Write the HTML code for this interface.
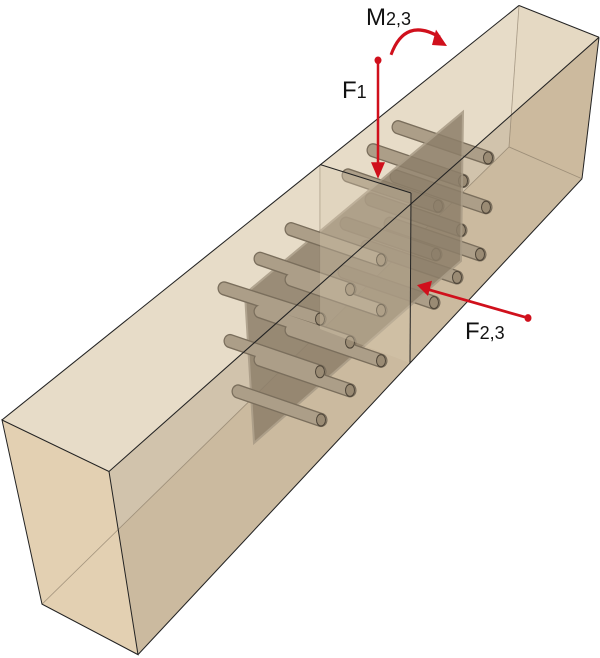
<!DOCTYPE html>
<html><head><meta charset="utf-8"><style>
html,body{margin:0;padding:0;background:#fff;width:600px;height:658px;overflow:hidden}
svg{display:block}
text{font-family:"Liberation Sans",sans-serif;fill:#111}
</style></head><body>
<svg width="600" height="658" viewBox="0 0 600 658">
<g transform="scale(1,1.0965)">
<polygon points="519,5 599,34 582,163 509,134" fill="#d9c3a0"/>
<polygon points="42,551 509,134 582,163 138,597" fill="#d8c4a6"/>
<polygon points="2,383 519,5 599,34 109,430" fill="#e6dac5" opacity="0.95"/>
<polygon points="109,430 599,34 582,163 138,597" fill="#c9b89d" opacity="0.85"/>
<polygon points="2,383 109,430 138,597 42,551" fill="#e3d0b2"/>
<g stroke="#8a7c68" stroke-width="0.8" fill="none" opacity="0.7">
<line x1="519" y1="5" x2="509" y2="134"/>
<line x1="509" y1="134" x2="582" y2="163"/>
<line x1="42" y1="551" x2="509" y2="134"/>
<line x1="320" y1="150" x2="320" y2="300"/>
</g>
<g fill="none" stroke-linecap="round">
<g stroke="#7a6e5c" stroke-width="13">
<path d="M398,116L488,144M373,137L463,165M396,161L486,189M348,160L438,188M371,182L461,210M390,204L480,232M346,204L436,232M367,225L457,253M344,248L434,276"/>
</g>
<g stroke="#ac9e88" stroke-width="10.5">
<path d="M398,116L488,144M373,137L463,165M396,161L486,189M348,160L438,188M371,182L461,210M390,204L480,232M346,204L436,232M367,225L457,253M344,248L434,276"/>
</g>
</g>
<g fill="#9a8b74" stroke="#4e4538" stroke-width="1">
<ellipse cx="488" cy="144" rx="4.5" ry="5.5"/><ellipse cx="463" cy="165" rx="4.5" ry="5.5"/><ellipse cx="486" cy="189" rx="4.5" ry="5.5"/><ellipse cx="438" cy="188" rx="4.5" ry="5.5"/><ellipse cx="461" cy="210" rx="4.5" ry="5.5"/><ellipse cx="480" cy="232" rx="4.5" ry="5.5"/><ellipse cx="436" cy="232" rx="4.5" ry="5.5"/><ellipse cx="457" cy="253" rx="4.5" ry="5.5"/><ellipse cx="434" cy="276" rx="4.5" ry="5.5"/>
</g>
<polygon points="245,268 463,102 461,238 254,404" fill="#8d7f6a" opacity="0.85" stroke="#a89b86" stroke-width="2"/>
<g fill="none" stroke-linecap="round">
<g stroke="#7a6e5c" stroke-width="13">
<path d="M291,209L381,237M260,236L350,264M291,255L381,283M224,263L320,291M260,284L350,312M291,301L381,329M230,311L320,339M260,328L350,356M238,357L321,383"/>
</g>
<g stroke="#ac9e88" stroke-width="10.5">
<path d="M291,209L381,237M260,236L350,264M291,255L381,283M224,263L320,291M260,284L350,312M291,301L381,329M230,311L320,339M260,328L350,356M238,357L321,383"/>
</g>
</g>
<g fill="#9a8b74" stroke="#4e4538" stroke-width="1">
<ellipse cx="381" cy="237" rx="4.5" ry="5.5"/><ellipse cx="350" cy="264" rx="4.5" ry="5.5"/><ellipse cx="381" cy="283" rx="4.5" ry="5.5"/><ellipse cx="320" cy="291" rx="4.5" ry="5.5"/><ellipse cx="350" cy="312" rx="4.5" ry="5.5"/><ellipse cx="381" cy="329" rx="4.5" ry="5.5"/><ellipse cx="320" cy="339" rx="4.5" ry="5.5"/><ellipse cx="350" cy="356" rx="4.5" ry="5.5"/><ellipse cx="321" cy="383" rx="4.5" ry="5.5"/>
</g>
<polygon points="320,150 411,176 410,331 320,300" fill="#d8c8ae" opacity="0.35"/>
<g stroke="#222" stroke-width="1" fill="none">
<polygon points="2,383 109,430 138,597 42,551"/>
<line x1="2" y1="383" x2="519" y2="5"/>
<line x1="519" y1="5" x2="599" y2="34"/>
<line x1="109" y1="430" x2="599" y2="34"/>
<line x1="599" y1="34" x2="582" y2="163"/>
<line x1="138" y1="597" x2="582" y2="163"/>
<line x1="320" y1="150" x2="411" y2="176"/>
<line x1="411" y1="176" x2="410" y2="331"/>
</g>
<g stroke="#d0101c" fill="#d0101c">
<line x1="378" y1="55" x2="378" y2="150" stroke-width="2.5"/>
<circle cx="378" cy="55" r="3.5" stroke="none"/>
<polygon points="371,148 385,148 378,163" stroke="none"/>
<line x1="528" y1="290" x2="428" y2="264" stroke-width="2.5"/>
<circle cx="528" cy="290" r="3.5" stroke="none"/>
<polygon points="417,260 432,256 428,270" stroke="none"/>
<path d="M391,50 Q405,15 440,34" fill="none" stroke-width="3"/>
<polygon points="436,27 447,42 432,41" stroke="none"/>
</g>
</g>
<text x="366" y="25" font-size="24">M<tspan font-size="18">2,3</tspan></text>
<text x="342" y="98" font-size="24">F<tspan font-size="18">1</tspan></text>
<text x="465" y="339" font-size="24">F<tspan font-size="18">2,3</tspan></text>
</svg>
</body></html>
